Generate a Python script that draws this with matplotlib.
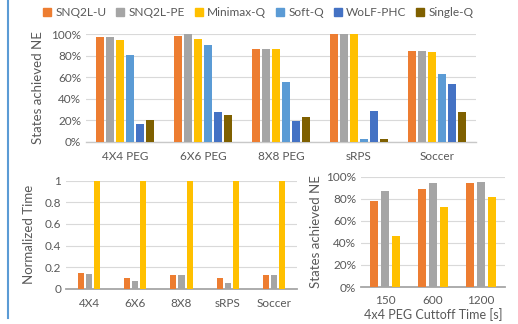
import matplotlib.pyplot as plt
import numpy as np
from matplotlib.lines import Line2D

plt.rcParams['font.family'] = ['Lato', 'DejaVu Sans']

# top panel: states achieved NE per game
games = ['4X4 PEG', '6X6 PEG', '8X8 PEG', 'sRPS', 'Soccer']
algos = ['SNQ2L-U', 'SNQ2L-PE', 'Minimax-Q', 'Soft-Q', 'WoLF-PHC', 'Single-Q']
ne_snq2l_u = [97.5, 98.8, 86, 100, 84.8]
ne_snq2l_pe = [97.5, 100, 86, 100, 84.8]
ne_minimax = [94.7, 96, 86.6, 100, 83.9]
ne_softq = [80.7, 90, 55.3, 2.5, 63]
ne_wolf = [16.1, 27.3, 19, 28.6, 54]
ne_single = [20.2, 24.8, 23.3, 2.2, 28]

# bottom left: normalized time
time_games = ['4X4', '6X6', '8X8', 'sRPS', 'Soccer']
time_snq2l_u = [0.142, 0.099, 0.127, 0.099, 0.13]
time_snq2l_pe = [0.14, 0.074, 0.127, 0.052, 0.13]
time_minimax = [1, 1, 1, 1, 1]

# bottom right: cutoff time on 4x4 PEG
cutoffs = ['150', '600', '1200']
cut_snq2l_u = [78.2, 88.8, 94.6]
cut_snq2l_pe = [87, 94.3, 94.9]
cut_minimax = [46.5, 72.8, 81.3]

colors = ['#ED7D31', '#A5A5A5', '#FFC000', '#5B9BD5', '#4472C4', '#7F6000']
txt = '#595959'
grid = '#d9d9d9'

W, H = 518, 324
fig = plt.figure(figsize=(W / 100, H / 100), dpi=100)


def px_axes(x0, y_top, x1, y_bot):
    return fig.add_axes([x0 / W, 1 - y_bot / H, (x1 - x0) / W, (y_bot - y_top) / H])


def style(ax, axis_col):
    for s in ['top', 'right', 'left']:
        ax.spines[s].set_visible(False)
    ax.spines['bottom'].set_color(axis_col)
    ax.spines['bottom'].set_linewidth(1.0)
    ax.grid(axis='y', color=grid, linewidth=0.8, zorder=0)
    ax.set_axisbelow(True)
    ax.tick_params(axis='both', length=0, colors=txt, labelsize=8.5)
    ax.tick_params(axis='x', pad=7)


# top panel
ax1 = px_axes(86, 34.3, 476, 141.7)
series = [ne_snq2l_u, ne_snq2l_pe, ne_minimax, ne_softq, ne_wolf, ne_single]
x = np.arange(len(games))
slot, bw = 0.13, 0.1
for i, vals in enumerate(series):
    ax1.bar(x + (i - 2.5) * slot, vals, width=bw, color=colors[i], zorder=3)
ax1.set_xlim(-0.5, len(games) - 0.5)
ax1.set_ylim(0, 100)
ax1.set_yticks(range(0, 101, 20))
ax1.set_yticklabels([f'{v}%' for v in range(0, 101, 20)])
ax1.set_xticks(x)
ax1.set_xticklabels(games)
style(ax1, '#c8c8c8')
ax1.set_ylabel('States achieved NE', color=txt, fontsize=9.5, labelpad=5)

# bottom left panel
ax2 = px_axes(66, 180.7, 297, 288.7)
x2 = np.arange(len(time_games))
slot2, bw2 = 0.174, 0.13
for i, vals in enumerate([time_snq2l_u, time_snq2l_pe, time_minimax]):
    ax2.bar(x2 + (i - 1) * slot2, vals, width=bw2, color=colors[i], zorder=3)
ax2.set_xlim(-0.5, len(time_games) - 0.5)
ax2.set_ylim(0, 1)
ax2.set_yticks([0, 0.2, 0.4, 0.6, 0.8, 1])
ax2.set_yticklabels(['0', '0.2', '0.4', '0.6', '0.8', '1'])
ax2.set_xticks(x2)
ax2.set_xticklabels(time_games)
style(ax2, '#a6a6a6')
ax2.spines['bottom'].set_linewidth(1.3)
ax2.set_ylabel('Normalized Time', color=txt, fontsize=9.5, labelpad=7)

# bottom right panel
ax3 = px_axes(361, 176.7, 505, 287)
x3 = np.arange(len(cutoffs))
slot3, bw3 = 0.22, 0.167
for i, vals in enumerate([cut_snq2l_u, cut_snq2l_pe, cut_minimax]):
    ax3.bar(x3 + (i - 1) * slot3, vals, width=bw3, color=colors[i], zorder=3)
ax3.set_xlim(-0.5, len(cutoffs) - 0.5)
ax3.set_ylim(0, 100)
ax3.set_yticks(range(0, 101, 20))
ax3.set_yticklabels([f'{v}%' for v in range(0, 101, 20)])
ax3.set_xticks(x3)
ax3.set_xticklabels(cutoffs)
style(ax3, '#a6a6a6')
ax3.spines['bottom'].set_linewidth(1.3)
ax3.tick_params(axis='x', pad=6)
ax3.set_ylabel('States achieved NE', color=txt, fontsize=9.5, labelpad=3)
ax3.set_xlabel('4x4 PEG Cuttoff Time [s]', color=txt, fontsize=9, labelpad=1)

# legend across the top
handles = [Line2D([], [], marker='s', linestyle='none', markersize=6,
                  markerfacecolor=c, markeredgecolor=c) for c in colors]
fig.legend(handles, algos, loc='center', bbox_to_anchor=(258 / W, 1 - 13 / H),
           ncol=6, frameon=False, fontsize=8.6, handletextpad=0.3,
           columnspacing=0.75, labelcolor=txt, borderaxespad=0, handlelength=0.8)

# blue margin line on the left
fig.add_artist(Line2D([8 / W, 8 / W], [1 - 318 / H, 1], color='#5B9BD5', linewidth=1.5))

fig.savefig('out.png', dpi=100)
